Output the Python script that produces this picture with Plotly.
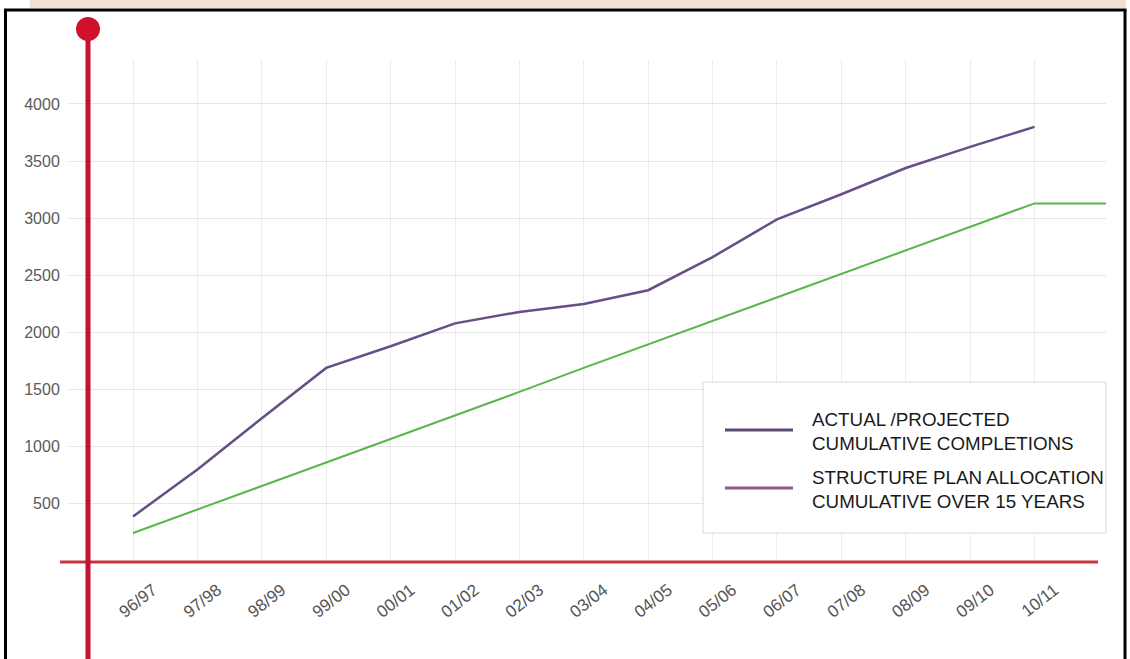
import plotly.graph_objects as go

# ---- data ----
categories = ["96/97", "97/98", "98/99", "99/00", "00/01", "01/02", "02/03", "03/04",
              "04/05", "05/06", "06/07", "07/08", "08/09", "09/10", "10/11"]
actual_projected = [390, 800, 1250, 1690, 1880, 2080, 2180, 2250, 2370, 2660, 2990,
                    3210, 3440, 3625, 3800]
structure_plan = [245, 450, 655, 865, 1070, 1275, 1480, 1690, 1895, 2100, 2305, 2510,
                  2720, 2925, 3130, 3130]
structure_tail_x = 15.11          # flat continuation past the last year
y_ticks = [500, 1000, 1500, 2000, 2500, 3000, 3500, 4000]
legend_labels = ["ACTUAL /PROJECTED<br>CUMULATIVE COMPLETIONS",
                 "STRUCTURE PLAN ALLOCATION<br>CUMULATIVE OVER 15 YEARS"]

# ---- layout geometry (pixels) ----
W, H = 1130, 659
L, R, T, B = 68, 1106, 60, 561

def px(x):
    return (x - L) / (R - L)

def py(y):
    return (B - y) / (B - T)

x_idx = list(range(len(categories)))
green_x = x_idx + [structure_tail_x]

PURPLE = "#674f86"
GREEN = "#58b64a"
RED = "#c4122f"
FONT = "Liberation Sans, Arial, sans-serif"

fig = go.Figure()
fig.add_trace(go.Scatter(x=x_idx, y=actual_projected, mode="lines",
                         line=dict(color=PURPLE, width=2.5), showlegend=False,
                         name="Actual / projected cumulative completions"))
fig.add_trace(go.Scatter(x=green_x, y=structure_plan, mode="lines",
                         line=dict(color=GREEN, width=2), showlegend=False,
                         name="Structure plan allocation cumulative over 15 years"))

shapes = []
# peach band at top
shapes.append(dict(type="rect", xref="paper", yref="paper", x0=px(30), x1=px(1126),
                   y0=py(8), y1=py(-2), fillcolor="#f3dfd0", line=dict(width=0), layer="below"))
# black frame
for (xa, ya, xb, yb) in [(5.5, 10, 5.5, 680), (4, 10, 1126.5, 10), (1125, 10, 1125, 680)]:
    shapes.append(dict(type="line", xref="paper", yref="paper", x0=px(xa), y0=py(ya),
                       x1=px(xb), y1=py(yb), line=dict(color="#000000", width=3)))
# red horizontal axis
shapes.append(dict(type="line", xref="paper", yref="paper", x0=px(60), x1=px(1098),
                   y0=py(562), y1=py(562), line=dict(color="#c8343f", width=3)))
# red vertical axis with dot
shapes.append(dict(type="line", xref="paper", yref="paper", x0=px(88), x1=px(88),
                   y0=py(29), y1=py(680), line=dict(color=RED, width=5)))
shapes.append(dict(type="circle", xref="paper", yref="paper", x0=px(76), x1=px(100),
                   y0=py(41), y1=py(17), fillcolor="#d0112b", line=dict(width=0)))
# legend box and samples
shapes.append(dict(type="rect", xref="paper", yref="paper", x0=px(703), x1=px(1106),
                   y0=py(533), y1=py(382), fillcolor="white",
                   line=dict(color="#d9d9d9", width=1)))
shapes.append(dict(type="line", xref="paper", yref="paper", x0=px(725), x1=px(793),
                   y0=py(430), y1=py(430), line=dict(color="#5d4a73", width=3)))
shapes.append(dict(type="line", xref="paper", yref="paper", x0=px(725), x1=px(793),
                   y0=py(488), y1=py(488), line=dict(color="#8c5c84", width=3)))

annotations = []
for lbl, yc in zip(legend_labels, [431, 489]):
    annotations.append(dict(text=lbl, xref="paper", yref="paper", x=px(810), y=py(yc),
                            xanchor="left", yanchor="middle", align="left", showarrow=False,
                            font=dict(family=FONT, size=18.8, color="#1a1a1a")))

fig.update_layout(
    width=W, height=H,
    margin=dict(l=L, r=W - R, t=T, b=H - B, pad=0),
    paper_bgcolor="white", plot_bgcolor="white",
    shapes=shapes, annotations=annotations,
    showlegend=False,
    xaxis=dict(range=[-1.01, 15.11], tickvals=x_idx, ticktext=categories,
               tickangle=-38, showgrid=True, gridcolor="#ececec", gridwidth=1,
               zeroline=False, showline=False, ticks="", ticklabelshift=20,
               ticklabelstandoff=15,
               tickfont=dict(family=FONT, size=17, color="#555555")),
    yaxis=dict(range=[0, 4385], tickvals=y_ticks, showgrid=True, gridcolor="#e6e6e6",
               gridwidth=1, zeroline=False, showline=False, ticks="outside", ticklen=4,
               tickcolor="rgba(0,0,0,0)",
               tickfont=dict(family=FONT, size=16, color="#5a5a5a")),
)

fig.write_html("out.html", config={"displayModeBar": False},
               post_script="document.body.style.margin='0';document.body.style.overflow='hidden';")
